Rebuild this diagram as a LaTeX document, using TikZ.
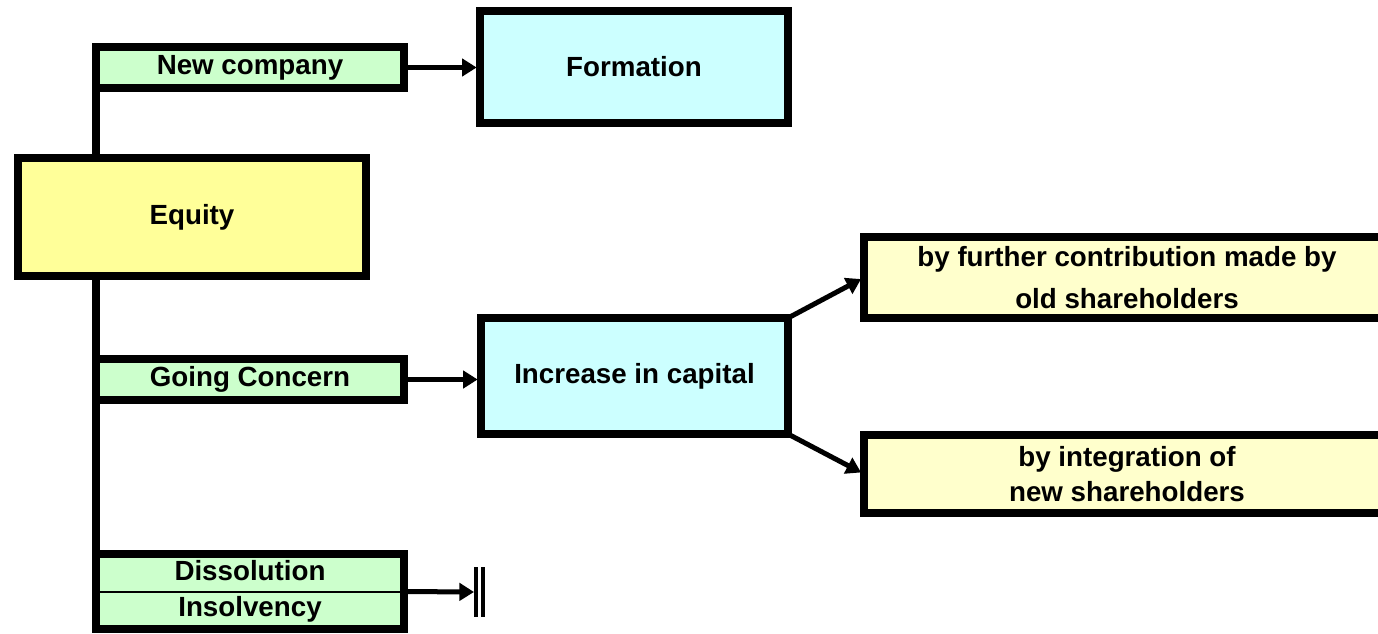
\documentclass[tikz,border=0pt]{standalone}
\usepackage{fontspec}
\setmainfont{Liberation Sans}
\usetikzlibrary{arrows.meta}
\definecolor{boxgreen}{HTML}{CCFFCC}
\definecolor{boxyellow}{HTML}{FFFF99}
\definecolor{boxcyan}{HTML}{CCFFFF}
\definecolor{boxpale}{HTML}{FFFFCC}
\begin{document}
\begin{tikzpicture}[x=0.75pt,y=-0.75pt,
  box/.style={draw=black, line width=6pt, outer sep=0pt, inner sep=0pt, align=center,
    font=\fontsize{20.8}{27}\selectfont\bfseries},
  arr/.style={line width=3.75pt, -{Triangle[length=11pt,width=13pt]}, shorten >=2.5pt},
  trunk/.style={line width=6pt}]
\useasboundingbox (0,0) rectangle (1378,633);
\fill[white] (0,0) rectangle (1378,633);
% trunk
\coordinate (ttop) at (96,47);
\coordinate (tbot) at (96,629);
\draw[trunk] (ttop) -- (tbot);
% nodes
\node[box, fill=boxgreen, minimum width=231pt, minimum height=30.75pt] (newc) at (250,67.5) {New company};
\node[box, fill=boxcyan, minimum width=231pt, minimum height=84pt] (form) at (634,67) {Formation};
\node[box, fill=boxyellow, minimum width=261pt, minimum height=88.5pt] (equity) at (192,217) {Equity};
\node[box, fill=boxgreen, minimum width=231pt, minimum height=30.75pt] (going) at (250,379.5) {Going Concern};
\node[box, fill=boxcyan, minimum width=230.25pt, minimum height=87pt] (inc) at (634.5,376) {Increase in capital};
\node[box, fill=boxpale, minimum width=394.5pt, minimum height=60.75pt,
  font=\fontsize{20.8}{31.5}\selectfont\bfseries] (b1) at (1127,277.5) {by further contribution made by\\old shareholders};
\node[box, fill=boxpale, minimum width=394.5pt, minimum height=58.5pt,
  font=\fontsize{20.8}{26.25}\selectfont\bfseries] (b2) at (1127,474) {by integration of\\new shareholders};
\node[box, fill=boxgreen, minimum width=231pt, minimum height=56.25pt] (diss) at (250,591.5) {Dissolution\\Insolvency};
\draw[line width=1.5pt] (diss.west) -- (diss.east);
% connectors
\draw[arr] (newc.east) -- (newc.east -| form.west);
\draw[arr] (going.east) -- (going.east -| inc.west);
\draw[arr] (inc.north east) -- (b1.west);
\draw[arr] (inc.south east) -- (b2.west);
\coordinate (stop) at (474,592);
\draw[arr, shorten >=0pt] (diss.east) -- (stop);
\draw[line width=3pt] ([xshift=1.5pt,yshift=18.75pt]stop) -- ([xshift=1.5pt,yshift=-18.75pt]stop);
\draw[line width=3pt] ([xshift=7pt,yshift=18.75pt]stop) -- ([xshift=7pt,yshift=-18.75pt]stop);
\end{tikzpicture}
\end{document}
